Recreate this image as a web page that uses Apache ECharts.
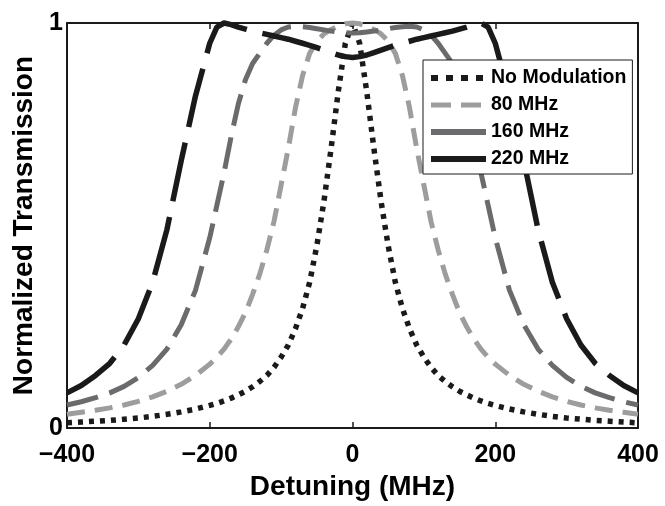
<!DOCTYPE html>
<html>
<head>
<meta charset="utf-8">
<script src="https://cdn.jsdelivr.net/npm/echarts@6/dist/echarts.min.js"></script>
<style>
  html, body { margin: 0; padding: 0; background: #fff; }
  #chart { width: 665px; height: 506px; }
</style>
</head>
<body>
<div id="chart"></div>
<script>
// detuning in MHz, shared by every curve
const detuning = [-400, -380, -360, -340, -320, -300, -280, -260, -240, -220,
  -200, -190, -180, -170, -160, -150, -140, -130, -120, -110, -100, -90, -80, -70, -60, -50, -40, -30, -20, -10,
  0, 10, 20, 30, 40, 50, 60, 70, 80, 90, 100, 110, 120, 130, 140, 150, 160, 170, 180, 190, 200,
  220, 240, 260, 280, 300, 320, 340, 360, 380, 400]

const noModulation = [0.013, 0.015, 0.017, 0.019, 0.022, 0.025, 0.029, 0.034, 0.040, 0.047,
  0.056, 0.061, 0.067, 0.074, 0.082, 0.091, 0.102, 0.115, 0.13, 0.15, 0.175, 0.205, 0.245, 0.295, 0.36, 0.45, 0.56, 0.69, 0.83, 0.95,
  1.0, 0.95, 0.83, 0.69, 0.56, 0.45, 0.36, 0.295, 0.245, 0.205, 0.175, 0.15, 0.13, 0.115, 0.102, 0.091, 0.082, 0.074, 0.067, 0.061, 0.056,
  0.047, 0.040, 0.034, 0.029, 0.025, 0.022, 0.019, 0.017, 0.015, 0.013]

const mod80 = [0.034, 0.039, 0.044, 0.05, 0.057, 0.066, 0.077, 0.091, 0.108, 0.13,
  0.158, 0.175, 0.195, 0.22, 0.25, 0.285, 0.33, 0.38, 0.44, 0.51, 0.6, 0.69, 0.79, 0.87, 0.925, 0.955, 0.973, 0.984, 0.992, 0.998,
  1.0, 0.998, 0.992, 0.984, 0.973, 0.955, 0.925, 0.87, 0.79, 0.69, 0.6, 0.51, 0.44, 0.38, 0.33, 0.285, 0.25, 0.22, 0.195, 0.175, 0.158,
  0.13, 0.108, 0.091, 0.077, 0.066, 0.057, 0.05, 0.044, 0.039, 0.034]

const mod160 = [0.057, 0.065, 0.075, 0.087, 0.103, 0.125, 0.155, 0.195, 0.255, 0.34,
  0.47, 0.55, 0.63, 0.72, 0.8, 0.86, 0.9, 0.925, 0.95, 0.97, 0.983, 0.99, 0.992, 0.991, 0.989, 0.986, 0.983, 0.98, 0.978, 0.976,
  0.975, 0.976, 0.978, 0.98, 0.983, 0.986, 0.989, 0.991, 0.992, 0.99, 0.983, 0.97, 0.95, 0.925, 0.9, 0.86, 0.8, 0.72, 0.63, 0.55, 0.47,
  0.34, 0.255, 0.195, 0.155, 0.125, 0.103, 0.087, 0.075, 0.065, 0.057]

const mod220 = [0.087, 0.105, 0.13, 0.16, 0.205, 0.27, 0.36, 0.49, 0.66, 0.82,
  0.95, 0.99, 1.0, 0.996, 0.99, 0.985, 0.98, 0.976, 0.972, 0.968, 0.964, 0.96, 0.955, 0.95, 0.945, 0.939, 0.933, 0.927, 0.921, 0.917,
  0.915, 0.917, 0.921, 0.927, 0.933, 0.939, 0.945, 0.95, 0.955, 0.96, 0.964, 0.968, 0.972, 0.976, 0.98, 0.985, 0.99, 0.996, 1.0, 0.99, 0.95,
  0.82, 0.66, 0.49, 0.36, 0.27, 0.205, 0.16, 0.13, 0.105, 0.087]

const seriesNames = ['No Modulation', '80 MHz', '160 MHz', '220 MHz']
const xTicks = [-400, -200, 0, 200, 400]
const xTickText = ['\u2212400', '\u2212200', '0', '200', '400']
const yTicks = [0, 1]

const font = "'Liberation Sans', Arial, Helvetica, sans-serif"
const ink = '#1a1a1a'

const chart = echarts.init(document.getElementById('chart'), null, { renderer: 'canvas' })

const pair = (ys) => detuning.map((x, i) => [x, ys[i]])

const mkLine = (name, ys, color, dash, width) => ({
  name,
  type: 'line',
  data: pair(ys),
  symbol: 'none',
  clip: false,
  lineStyle: { color, width, type: dash, cap: 'butt' },
  itemStyle: { color },
  emphasis: { disabled: true },
})

const tickLabelStyle = { fontFamily: font, fontWeight: 'bold', fontSize: 25, color: '#000' }
const nameStyle = { fontFamily: font, fontWeight: 'bold', fontSize: 28, color: '#000' }
// legend swatches: no marker, only the line
const noMarker = { opacity: 0 }

chart.setOption({
  backgroundColor: '#fff',
  animation: false,
  grid: { left: 67, right: 27, top: 23, bottom: 67, containLabel: false },
  legend: {
    left: 423,
    top: 60,
    orient: 'vertical',
    backgroundColor: '#fff',
    borderColor: ink,
    borderWidth: 1,
    borderRadius: 0,
    padding: [8, 6, 5, 5],
    itemWidth: 55,
    itemHeight: 14,
    itemGap: 7,
    textStyle: { fontFamily: font, fontWeight: 'bold', fontSize: 19.5, color: '#000' },
    data: [
      { name: seriesNames[0], itemStyle: noMarker, lineStyle: { type: [7, 8], width: 6, color: ink } },
      { name: seriesNames[1], itemStyle: noMarker, lineStyle: { type: [20, 10], width: 5, color: '#9d9d9d' } },
      { name: seriesNames[2], itemStyle: noMarker, lineStyle: { type: 'solid', width: 6, color: '#6b6b6d' } },
      { name: seriesNames[3], itemStyle: noMarker, lineStyle: { type: 'solid', width: 6, color: ink } },
    ],
  },
  xAxis: [
    {
      type: 'value',
      min: -400,
      max: 400,
      interval: 200,
      position: 'bottom',
      name: 'Detuning (MHz)',
      nameLocation: 'middle',
      nameGap: 39,
      nameTextStyle: nameStyle,
      axisLine: { onZero: false, lineStyle: { color: ink, width: 2 } },
      axisTick: { inside: true, length: 6, lineStyle: { color: ink, width: 1.5 } },
      axisLabel: {
        ...tickLabelStyle,
        margin: 15,
        formatter: (v) => xTickText[xTicks.indexOf(v)],
      },
      splitLine: { show: false },
    },
    {
      type: 'value',
      min: -400,
      max: 400,
      interval: 200,
      position: 'top',
      axisLine: { onZero: false, lineStyle: { color: ink, width: 2 } },
      axisTick: { inside: true, length: 6, lineStyle: { color: ink, width: 1.5 } },
      axisLabel: { show: false },
      splitLine: { show: false },
    },
  ],
  yAxis: [
    {
      type: 'value',
      min: 0,
      max: 1,
      interval: 1,
      position: 'left',
      name: 'Normalized Transmission',
      nameLocation: 'middle',
      nameGap: 18,
      nameTextStyle: nameStyle,
      axisLine: { show: true, onZero: false, lineStyle: { color: ink, width: 2 } },
      axisTick: { show: true, inside: true, length: 6, lineStyle: { color: ink, width: 1.5 } },
      axisLabel: {
        ...tickLabelStyle,
        margin: 4,
        formatter: (v) => (yTicks.includes(v) ? String(v) : ''),
      },
      splitLine: { show: false },
    },
    {
      type: 'value',
      min: 0,
      max: 1,
      interval: 1,
      position: 'right',
      axisLine: { show: true, onZero: false, lineStyle: { color: ink, width: 2 } },
      axisTick: { show: true, inside: true, length: 6, lineStyle: { color: ink, width: 1.5 } },
      axisLabel: { show: false },
      splitLine: { show: false },
    },
  ],
  series: [
    mkLine(seriesNames[0], noModulation, ink, [5, 6], 5.5),
    mkLine(seriesNames[1], mod80, '#9d9d9d', [18, 10], 5),
    mkLine(seriesNames[2], mod160, '#6b6b6d', [32, 12], 5),
    mkLine(seriesNames[3], mod220, ink, [60, 16], 5.5),
  ],
})
</script>
</body>
</html>
